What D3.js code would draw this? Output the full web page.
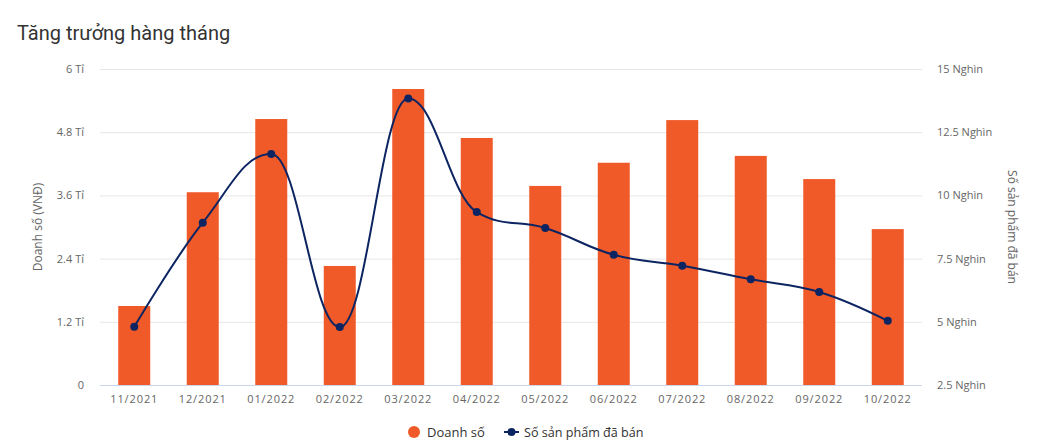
<!DOCTYPE html>
<html>
<head>
<meta charset="utf-8">
<script src="https://cdn.jsdelivr.net/npm/d3@7"></script>
<style>
  body { margin: 0; background: #fff; }
  svg { display: block; font-family: "Open Sans", sans-serif; }
</style>
</head>
<body>
<div id="chart"></div>
<script>
const months = ['11/2021','12/2021','01/2022','02/2022','03/2022','04/2022','05/2022','06/2022','07/2022','08/2022','09/2022','10/2022'];
// doanh số, tỉ VNĐ
const revenue = [1.5, 3.66, 5.05, 2.26, 5.62, 4.69, 3.78, 4.22, 5.03, 4.35, 3.91, 2.96];
// số sản phẩm đã bán, nghìn
const units = [4.8, 8.92, 11.64, 4.79, 13.83, 9.34, 8.71, 7.65, 7.22, 6.68, 6.18, 5.04];
const leftTicks = [0, 1.2, 2.4, 3.6, 4.8, 6];
const rightTicks = [2.5, 5, 7.5, 10, 12.5, 15];

const W = 1037, H = 447;
const M = { TOP: 69, BOTTOM: 62, LEFT: 100, RIGHT: 115 };
const width = W - M.LEFT - M.RIGHT, height = H - M.TOP - M.BOTTOM;

const svg = d3.select('#chart').append('svg')
    .attr('width', W).attr('height', H);

svg.append('text')
    .attr('x', 17).attr('y', 40)
    .attr('font-family', 'Roboto, sans-serif')
    .attr('font-size', 20)
    .attr('fill', '#333')
    .text('Tăng trưởng hàng tháng');

const g = svg.append('g').attr('transform', `translate(${M.LEFT}, ${M.TOP})`);

const x = d3.scaleBand().domain(months).range([0, width]);
const yL = d3.scaleLinear().domain([0, 6]).range([height, 0]);
const yR = d3.scaleLinear().domain([2.5, 15]).range([height, 0]);

// grid
g.append('g')
    .selectAll('line').data(leftTicks).join('line')
    .attr('x1', 0).attr('x2', width)
    .attr('y1', d => yL(d) + 0.5).attr('y2', d => yL(d) + 0.5)
    .attr('stroke', '#e6e6e6');

// left axis
const leftAxis = g.append('g')
    .call(d3.axisLeft(yL).tickValues(leftTicks).tickSize(0).tickPadding(16)
        .tickFormat(d => d === 0 ? '0' : `${d} Tỉ`));
leftAxis.select('.domain').remove();
leftAxis.selectAll('text').attr('fill', '#666').attr('font-size', 11).attr('font-family', 'Open Sans, sans-serif');

// right axis
const rightAxis = g.append('g')
    .attr('transform', `translate(${width}, 0)`)
    .call(d3.axisRight(yR).tickValues(rightTicks).tickSize(0).tickPadding(15)
        .tickFormat(d => `${d} Nghìn`));
rightAxis.select('.domain').remove();
rightAxis.selectAll('text').attr('fill', '#666').attr('font-size', 11).attr('font-family', 'Open Sans, sans-serif');

// bars
g.append('g').selectAll('rect').data(months).join('rect')
    .attr('x', d => x(d) + x.bandwidth() / 2 - 16)
    .attr('width', 32)
    .attr('y', (d, i) => yL(revenue[i]))
    .attr('height', (d, i) => height - yL(revenue[i]))
    .attr('fill', '#f05a28');

// x axis
const xAxis = g.append('g')
    .attr('transform', `translate(0, ${height})`)
    .call(d3.axisBottom(x).tickSize(0).tickPadding(10));
xAxis.select('.domain').attr('stroke', '#ccd6eb').attr('d', `M0,0.5H${width}`);
xAxis.selectAll('text').attr('fill', '#666').attr('font-size', 11)
    .attr('font-family', 'Open Sans, sans-serif').attr('letter-spacing', 0.9);

// highcharts-like spline
function splinePath(pts) {
    const s = 1.5, den = s + 1;
    const c = pts.map((p, i) => {
        if (i === 0 || i === pts.length - 1) return { lx: p[0], ly: p[1], rx: p[0], ry: p[1] };
        const [px, py] = p, [ax, ay] = pts[i - 1], [bx, by] = pts[i + 1];
        const lx = (s * px + ax) / den, rx = (s * px + bx) / den;
        let ly = (s * py + ay) / den, ry = (s * py + by) / den;
        const corr = ((ry - ly) * (rx - px)) / (rx - lx) + py - ry;
        ly += corr; ry += corr;
        if (ly > ay && ly > py) { ly = Math.max(ay, py); ry = 2 * py - ly; }
        else if (ly < ay && ly < py) { ly = Math.min(ay, py); ry = 2 * py - ly; }
        if (ry > by && ry > py) { ry = Math.max(by, py); ly = 2 * py - ry; }
        else if (ry < by && ry < py) { ry = Math.min(by, py); ly = 2 * py - ry; }
        return { lx, ly, rx, ry };
    });
    const path = d3.path();
    path.moveTo(pts[0][0], pts[0][1]);
    for (let i = 1; i < pts.length; i++) {
        path.bezierCurveTo(c[i - 1].rx, c[i - 1].ry, c[i].lx, c[i].ly, pts[i][0], pts[i][1]);
    }
    return path.toString();
}

const pts = months.map((m, i) => [x(m) + x.bandwidth() / 2, yR(units[i])]);
g.append('path')
    .attr('d', splinePath(pts))
    .attr('fill', 'none')
    .attr('stroke', '#0c2461')
    .attr('stroke-width', 2);

g.append('g').selectAll('circle').data(months).join('circle')
    .attr('cx', d => x(d) + x.bandwidth() / 2)
    .attr('cy', (d, i) => yR(units[i]))
    .attr('r', 4)
    .attr('fill', '#0c2461');

// axis titles
svg.append('text')
    .attr('transform', `translate(42, ${M.TOP + height / 2}) rotate(-90)`)
    .attr('text-anchor', 'middle')
    .attr('fill', '#666').attr('font-size', 12)
    .text('Doanh số (VNĐ)');
svg.append('text')
    .attr('transform', `translate(1008, ${M.TOP + height / 2}) rotate(90)`)
    .attr('text-anchor', 'middle')
    .attr('fill', '#666').attr('font-size', 12)
    .text('Số sản phẩm đã bán');

// legend
const lg = svg.append('g').attr('transform', 'translate(0, 432)');
lg.append('circle').attr('cx', 414).attr('cy', 0).attr('r', 6).attr('fill', '#f05a28');
lg.append('text').attr('x', 427).attr('y', 4.5).attr('font-size', 13).attr('fill', '#333')
    .text('Doanh số');
lg.append('line').attr('x1', 504).attr('x2', 519).attr('y1', 0).attr('y2', 0)
    .attr('stroke', '#0c2461').attr('stroke-width', 2);
lg.append('circle').attr('cx', 511.5).attr('cy', 0).attr('r', 4).attr('fill', '#0c2461');
lg.append('text').attr('x', 524).attr('y', 4.5).attr('font-size', 12.6).attr('fill', '#333')
    .text('Số sản phẩm đã bán');
</script>
</body>
</html>
